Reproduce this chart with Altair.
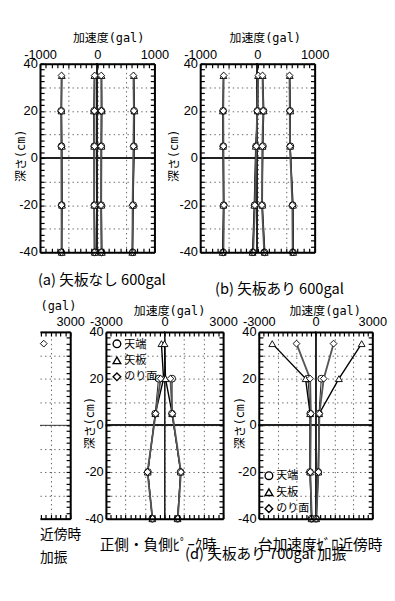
import altair as alt
import pandas as pd

DEPTHS = [35, 20, 5, -20, -40]
SERIES = ["天端", "矢板", "のり面"]
SHAPES = ["circle", "triangle-up", "diamond"]
LINE_W = [1.0, 2.0, 1.0]
LINE_C = ["#111111", "#000000", "#555555"]

# (a) 矢板なし 600gal
A_NEG_TENBA = [None, -630, -625, -622, -628]
A_NEG_YAITA = [-620, -625, -618, -615, -620]
A_NEG_NORI = [-625, -632, -628, -625, -622]
A_POS_TENBA = [None, 645, 640, 628, 620]
A_POS_YAITA = [640, 650, 645, 625, 612]
A_POS_NORI = [632, 640, 632, 618, 615]
A_ZNEG_TENBA = [None, -55, -52, -48, -45]
A_ZNEG_YAITA = [-50, -58, -55, -52, -42]
A_ZNEG_NORI = [-45, -50, -48, -55, -50]
A_ZPOS_TENBA = [None, 72, 70, 68, 75]
A_ZPOS_YAITA = [75, 80, 75, 72, 80]
A_ZPOS_NORI = [70, 72, 68, 66, 72]

# (b) 矢板あり 600gal
B_NEG_TENBA = [None, -600, -598, -590, -600]
B_NEG_YAITA = [-595, -605, -602, -595, -608]
B_NEG_NORI = [-590, -598, -595, -585, -595]
B_POS_TENBA = [None, 570, 575, 615, 620]
B_POS_YAITA = [565, 575, 570, 622, 625]
B_POS_NORI = [560, 565, 568, 610, 615]
B_ZNEG_TENBA = [None, 0, -25, -50, -80]
B_ZNEG_YAITA = [10, 5, -30, -55, -85]
B_ZNEG_NORI = [15, -5, -20, -45, -75]
B_ZPOS_TENBA = [None, 105, 95, 80, 120]
B_ZPOS_YAITA = [92, 110, 90, 85, 128]
B_ZPOS_NORI = [88, 100, 85, 78, 118]

# visible right edge of the panel cut by the left border
C_POS_NORI = [1640, None, None, None, None]

# (d) 矢板あり 700gal : 正側・負側ピーク時
DP_NEG_TENBA = [None, -310, -480, -850, -630]
DP_NEG_YAITA = [-160, -50, -470, -860, -625]
DP_NEG_NORI = [None, -200, -455, -875, -615]
DP_POS_TENBA = [None, 390, 380, 820, 665]
DP_POS_YAITA = [0, 50, 390, 830, 670]
DP_POS_NORI = [None, 300, 400, 840, 680]

# (d) 矢板あり 700gal : 台加速度ゼロ近傍時
DZ_NEG_TENBA = [None, -400, -280, -300, -220]
DZ_NEG_YAITA = [-2290, -530, -290, -290, -210]
DZ_NEG_NORI = [-1010, -290, -250, -280, -200]
DZ_POS_TENBA = [None, 300, 180, 140, 25]
DZ_POS_YAITA = [2435, 1235, 190, 145, 30]
DZ_POS_NORI = [950, 430, 200, 150, 40]

FONT_NUM = "Liberation Sans, Arial, sans-serif"
FONT_AX = "DejaVu Sans Mono, Noto Sans CJK JP, monospace"
FONT_JP = "Noto Sans CJK JP, sans-serif"
GRID_DASH = [1.5, 3.5]
GRID_C = "#555555"


def build(groups):
    rows = []
    for key, series, vals in groups:
        for d, v in zip(DEPTHS, vals):
            if v is not None:
                rows.append({"series": series, "line": key + series, "depth": d, "gal": v})
    return pd.DataFrame(rows)


def steps(a, b, s):
    n = int(round((b - a) / s))
    return [a + i * s for i in range(n + 1)]


def tick_axis(orient, values, size):
    # inward ticks (negative length given as an expression) + frame line
    return alt.Axis(orient=orient, values=values, labels=False, ticks=True,
                    tickSize=alt.ExprRef(str(-size)), tickWidth=1.3, tickColor="black", domain=True,
                    domainWidth=2.2, domainColor="black", grid=False, title=None, zindex=3,
                    minExtent=0, maxExtent=0)


def cap_title(text, dx, off, anchor="middle", lh=None, size=16):
    kw = dict(text=text, orient="bottom", anchor=anchor, frame="group", dx=dx, offset=off,
              font=FONT_JP, fontSize=size, fontWeight="normal", color="black", baseline="top")
    if lh:
        kw["lineHeight"] = lh
    return alt.TitleParams(**kw)


def panel(df, W, H, xdom, grid_x, lab_expr, tick_x, *, ylabels=True, left_edge=True, zero_x=True,
          xtitle="加速度(gal)", xt_x=None, xt_align="center", xt_y=-28, lab_pad=3,
          yt_x=-21, y_ext=None, cap=None, legend=None):
    xs = alt.Scale(domain=xdom, nice=False, zero=False)
    ys = alt.Scale(domain=[-40, 40], nice=False, zero=False)
    grid_y = steps(-40, 40, 10)
    tick_y = steps(-40, 40, 2.5)
    xa = dict(orient="top", values=grid_x, labelExpr=lab_expr,
              ticks=False, domain=False, grid=True, gridDash=GRID_DASH, gridColor=GRID_C, gridWidth=1,
              labelFont=FONT_NUM, labelFontSize=14, labelColor="black", labelPadding=lab_pad,
              labelFlush=False, labelOverlap=False, labelAngle=0, zindex=0,
              title=xtitle, titleFont=FONT_AX, titleFontSize=13, titleFontWeight="normal",
              titleColor="black", titleX=(xt_x if xt_x is not None else W / 2), titleY=xt_y,
              titleAlign=xt_align, titleBaseline="middle")
    ya = dict(orient="left", values=grid_y, ticks=False, domain=False, grid=True,
              gridDash=GRID_DASH, gridColor=GRID_C, gridWidth=1, zindex=0)
    if ylabels:
        ya.update(labelExpr="datum.value % 20 == 0 ? toString(datum.value) : ''",
                  labelFont=FONT_NUM, labelFontSize=14, labelColor="black", labelPadding=3,
                  labelOverlap=False, labelFlush=False,
                  title="深さ(cm)", titleFont=FONT_AX, titleFontSize=13, titleFontWeight="normal",
                  titleColor="black", titleAngle=270, titleX=yt_x, titleY=H / 2 - 3,
                  titleAlign="center", titleBaseline="middle")
    else:
        ya.update(labels=False, title=None)
    if y_ext is not None:
        ya.update(minExtent=y_ext, maxExtent=max(y_ext, 1) if y_ext else 0)

    base = alt.Chart(df)
    layers = []
    if zero_x:
        layers.append(base.mark_rule(color="#222222", strokeWidth=1).encode(
            x=alt.XDatum(0, type="quantitative", scale=xs, axis=None)))
    layers.append(base.mark_rule(color="#222222", strokeWidth=1).encode(
        y=alt.YDatum(0, type="quantitative", scale=ys, axis=None)))
    layers.append(base.mark_line().encode(
        x=alt.X("gal:Q", scale=xs, axis=alt.Axis(**xa)),
        y=alt.Y("depth:Q", scale=ys, axis=alt.Axis(**ya)),
        detail="line:N", order="depth:Q",
        color=alt.Color("series:N", scale=alt.Scale(domain=SERIES, range=LINE_C), legend=None),
        strokeWidth=alt.StrokeWidth("series:N", scale=alt.Scale(domain=SERIES, range=LINE_W), legend=None)))
    layers.append(base.mark_point(filled=True, fill="white", stroke="black", strokeWidth=1,
                                  size=55, opacity=1).encode(
        x=alt.X("gal:Q", scale=xs, axis=tick_axis("bottom", tick_x, 4.5)),
        y=alt.Y("depth:Q", scale=ys, axis=tick_axis("right", tick_y, 4.5)),
        shape=alt.Shape("series:N", scale=alt.Scale(domain=SERIES, range=SHAPES), legend=legend)))
    layers.append(base.mark_point(opacity=0).encode(
        x=alt.X("gal:Q", scale=xs, axis=tick_axis("top", tick_x, 4.5)),
        y=alt.Y("depth:Q", scale=ys, axis=(tick_axis("left", tick_y, 4.5) if left_edge else None))))
    ch = alt.layer(*layers).properties(width=W, height=H)
    if cap is not None:
        ch = ch.properties(title=cap)
    return ch.resolve_axis(x="independent", y="independent")


def legend_at(x, y):
    return alt.Legend(orient="none", legendX=x, legendY=y, direction="vertical", title=None,
                      labelFont=FONT_JP, labelFontSize=12, labelColor="black", labelOffset=2,
                      symbolSize=70, rowPadding=3)


df_a = build([
    ("neg", "天端", A_NEG_TENBA), ("neg", "矢板", A_NEG_YAITA), ("neg", "のり面", A_NEG_NORI),
    ("pos", "天端", A_POS_TENBA), ("pos", "矢板", A_POS_YAITA), ("pos", "のり面", A_POS_NORI),
    ("zn", "天端", A_ZNEG_TENBA), ("zn", "矢板", A_ZNEG_YAITA), ("zn", "のり面", A_ZNEG_NORI),
    ("zp", "天端", A_ZPOS_TENBA), ("zp", "矢板", A_ZPOS_YAITA), ("zp", "のり面", A_ZPOS_NORI)])
df_b = build([
    ("neg", "天端", B_NEG_TENBA), ("neg", "矢板", B_NEG_YAITA), ("neg", "のり面", B_NEG_NORI),
    ("pos", "天端", B_POS_TENBA), ("pos", "矢板", B_POS_YAITA), ("pos", "のり面", B_POS_NORI),
    ("zn", "天端", B_ZNEG_TENBA), ("zn", "矢板", B_ZNEG_YAITA), ("zn", "のり面", B_ZNEG_NORI),
    ("zp", "天端", B_ZPOS_TENBA), ("zp", "矢板", B_ZPOS_YAITA), ("zp", "のり面", B_ZPOS_NORI)])
df_c = build([("pos", "のり面", C_POS_NORI)])
df_dp = build([
    ("neg", "天端", DP_NEG_TENBA), ("neg", "矢板", DP_NEG_YAITA), ("neg", "のり面", DP_NEG_NORI),
    ("pos", "天端", DP_POS_TENBA), ("pos", "矢板", DP_POS_YAITA), ("pos", "のり面", DP_POS_NORI)])
df_dz = build([
    ("neg", "天端", DZ_NEG_TENBA), ("neg", "矢板", DZ_NEG_YAITA), ("neg", "のり面", DZ_NEG_NORI),
    ("pos", "天端", DZ_POS_TENBA), ("pos", "矢板", DZ_POS_YAITA), ("pos", "のり面", DZ_POS_NORI)])

LAB1 = "datum.value % 1000 == 0 ? toString(datum.value) : ''"
LAB3 = "datum.value % 3000 == 0 ? toString(datum.value) : ''"

W1, H1 = 125, 206
pa = panel(df_a, W1, H1, [-1000, 1000], steps(-1000, 1000, 500), LAB1, steps(-1000, 1000, 100),
           xt_x=W1 / 2 + 12, yt_x=-21, y_ext=35, cap=cap_title("(a) 矢板なし 600gal", 5, 16))
pb = panel(df_b, W1, H1, [-1000, 1000], steps(-1000, 1000, 500), LAB1, steps(-1000, 1000, 100),
           xt_x=W1 / 2 + 8, yt_x=-29, cap=cap_title("(b) 矢板あり 600gal", 24, 25))

H2 = 204
WC, WL, WR = 33, 128, 124
pc = panel(df_c, WC, H2, [1450, 3000], [2000, 3000],
           "datum.value == 3000 ? toString(datum.value) : ''", steps(1500, 3000, 250),
           ylabels=False, left_edge=False, zero_x=False, y_ext=0,
           xtitle="(gal)", xt_x=0, xt_align="left", xt_y=-29, lab_pad=4,
           cap=cap_title(["近傍時", "加振"], 0, 10, anchor="start", lh=25, size=15))
pdl = panel(df_dp, WL, H2, [-3000, 3000], steps(-3000, 3000, 1000), LAB3, steps(-3000, 3000, 250),
            xt_x=WL / 2 + 5, xt_y=-23, lab_pad=4, yt_x=-18,
            cap=cap_title("正側・負側ﾋﾟｰｸ時", -7, 14), legend=legend_at(6, 7))
pdr = panel(df_dz, WR, H2, [-3000, 3000], steps(-3000, 3000, 1000), LAB3, steps(-3000, 3000, 250),
            xt_x=WR / 2 + 10, xt_y=-23, lab_pad=4, yt_x=-21,
            cap=cap_title("台加速度ｾﾞﾛ近傍時", 5, 14), legend=legend_at(5, 151))

row1 = alt.hconcat(pa, pb, spacing=50, bounds="flush").resolve_scale(
    shape="independent").resolve_legend(shape="independent")
row2 = alt.hconcat(pc, pdl, pdr, spacing=39, bounds="flush",
                   title=alt.TitleParams("(d) 矢板あり 700gal 加振", orient="bottom", anchor="middle",
                                         frame="bounds", dx=58, offset=-20, font=FONT_JP, fontSize=16,
                                         fontWeight="normal", color="black", baseline="top")
                   ).resolve_scale(shape="independent").resolve_legend(shape="independent")

chart = alt.vconcat(row1, row2, spacing=4).resolve_scale(shape="independent").resolve_legend(
    shape="independent").properties(padding=0).configure_view(strokeWidth=0)

chart.save("out.html", embed_options={"renderer": "svg", "actions": False})
